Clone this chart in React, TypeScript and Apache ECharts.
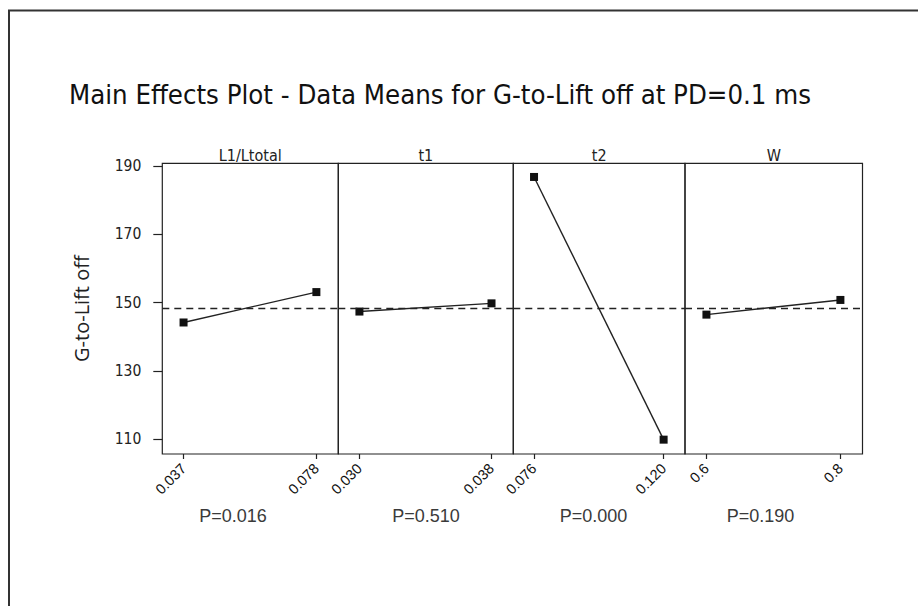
import React, { useEffect, useRef } from "react";
import * as echarts from "echarts";

const factors = ["L1/Ltotal", "t1", "t2", "W"];
const levelLabels = [
  ["0.037", "0.078"],
  ["0.030", "0.038"],
  ["0.076", "0.120"],
  ["0.6", "0.8"],
];
const means = [
  [144.2, 153.1],
  [147.4, 149.8],
  [186.8, 109.9],
  [146.5, 150.8],
];
const pValues = ["P=0.016", "P=0.510", "P=0.000", "P=0.190"];
const grandMean = 148.4;
const yTicks = [110, 130, 150, 170, 190];
const levelPositions = [0, 1];

const panelEdges = [162.3, 338.3, 513.3, 685, 862.5];
const pCenters = [233, 426, 593.5, 760.5];
const gridTop = 163.3;
const gridBottomY = 454;

export default function App() {
  const ref = useRef<HTMLDivElement>(null);
  useEffect(() => {
    if (!ref.current) return;
    const chart = echarts.init(ref.current, null, { renderer: "svg" });
    const grids: any[] = [];
    const xAxes: any[] = [];
    const yAxes: any[] = [];
    const series: any[] = [];
    const graphics: any[] = [];
    factors.forEach((f, i) => {
      const left = panelEdges[i];
      const width = panelEdges[i + 1] - panelEdges[i];
      grids.push({
        left,
        width,
        top: gridTop,
        height: gridBottomY - gridTop,
        show: true,
        borderColor: "#222",
        borderWidth: 1.2,
        backgroundColor: "transparent",
        containLabel: false,
      });
      xAxes.push({
        type: "value",
        gridIndex: i,
        min: -0.16,
        max: 1.165,
        splitLine: { show: false },
        axisLine: { show: false, onZero: false },
        axisTick: {
          show: true,
          customValues: levelPositions,
          length: 5,
          lineStyle: { color: "#222", width: 1.2 },
        },
        axisLabel: {
          show: true,
          customValues: levelPositions,
          rotate: 45,
          margin: 12,
          fontSize: 14.5,
          fontFamily: "Liberation Sans, Arial, sans-serif",
          color: "#111",
          formatter: (v: number) => levelLabels[i][Math.round(v)],
        },
      });
      yAxes.push({
        type: "value",
        gridIndex: i,
        min: 105.7,
        max: 190.8,
        splitLine: { show: false },
        axisLine: { show: false, onZero: false },
        axisTick: {
          show: i === 0,
          customValues: yTicks,
          length: 9,
          lineStyle: { color: "#222", width: 1.2 },
        },
        axisLabel: {
          show: i === 0,
          customValues: yTicks,
          margin: 21,
          fontSize: 15.5,
          fontFamily: "DejaVu Sans Condensed, Liberation Sans, sans-serif",
          color: "#222",
        },
        name: i === 0 ? "G-to-Lift off" : "",
        nameLocation: "middle",
        nameRotate: 90,
        nameGap: 71,
        nameTextStyle: {
          fontSize: 20,
          fontFamily: "Open Sans, sans-serif",
          color: "#222",
        },
      });
      series.push({
        type: "line",
        xAxisIndex: i,
        yAxisIndex: i,
        data: means[i].map((m, k) => [levelPositions[k], m]),
        symbol: "rect",
        symbolSize: 8,
        itemStyle: { color: "#111" },
        lineStyle: { color: "#222", width: 1.4 },
        markLine: {
          silent: true,
          symbol: ["none", "none"],
          label: { show: false },
          lineStyle: { color: "#222", type: [7, 5], width: 1.3 },
          data: [{ yAxis: grandMean }],
        },
      });
      graphics.push({
        type: "text",
        x: left + width / 2,
        y: 155,
        style: {
          text: f,
          fontSize: 16,
          fontFamily: "DejaVu Sans Condensed, Liberation Sans, sans-serif",
          fill: "#222",
          align: "center",
          verticalAlign: "middle",
        },
      });
      graphics.push({
        type: "text",
        x: pCenters[i],
        y: 516,
        style: {
          text: pValues[i],
          fontSize: 18,
          fontFamily: "Liberation Sans, Arial, sans-serif",
          fill: "#3a3a3a",
          align: "center",
          verticalAlign: "middle",
        },
      });
    });
    graphics.push({
      type: "polyline",
      shape: { points: [[9, 606], [9, 10.5], [918, 10.5]] },
      style: { stroke: "#333", lineWidth: 2, fill: "none" },
    });
    chart.setOption({
      animation: false,
      backgroundColor: "#fff",
      title: {
        text: "Main Effects Plot - Data Means for G-to-Lift off at PD=0.1 ms",
        left: 64,
        top: 76,
        textStyle: {
          fontSize: 27.3,
          fontWeight: "normal",
          fontFamily: "DejaVu Sans Condensed, sans-serif",
          color: "#111",
        },
      },
      grid: grids,
      xAxis: xAxes,
      yAxis: yAxes,
      series,
      graphic: graphics,
    });
    return () => chart.dispose();
  }, []);
  return (
    <div
      ref={ref}
      style={{ position: "fixed", left: 0, top: 0, width: 918, height: 606 }}
    />
  );
}
